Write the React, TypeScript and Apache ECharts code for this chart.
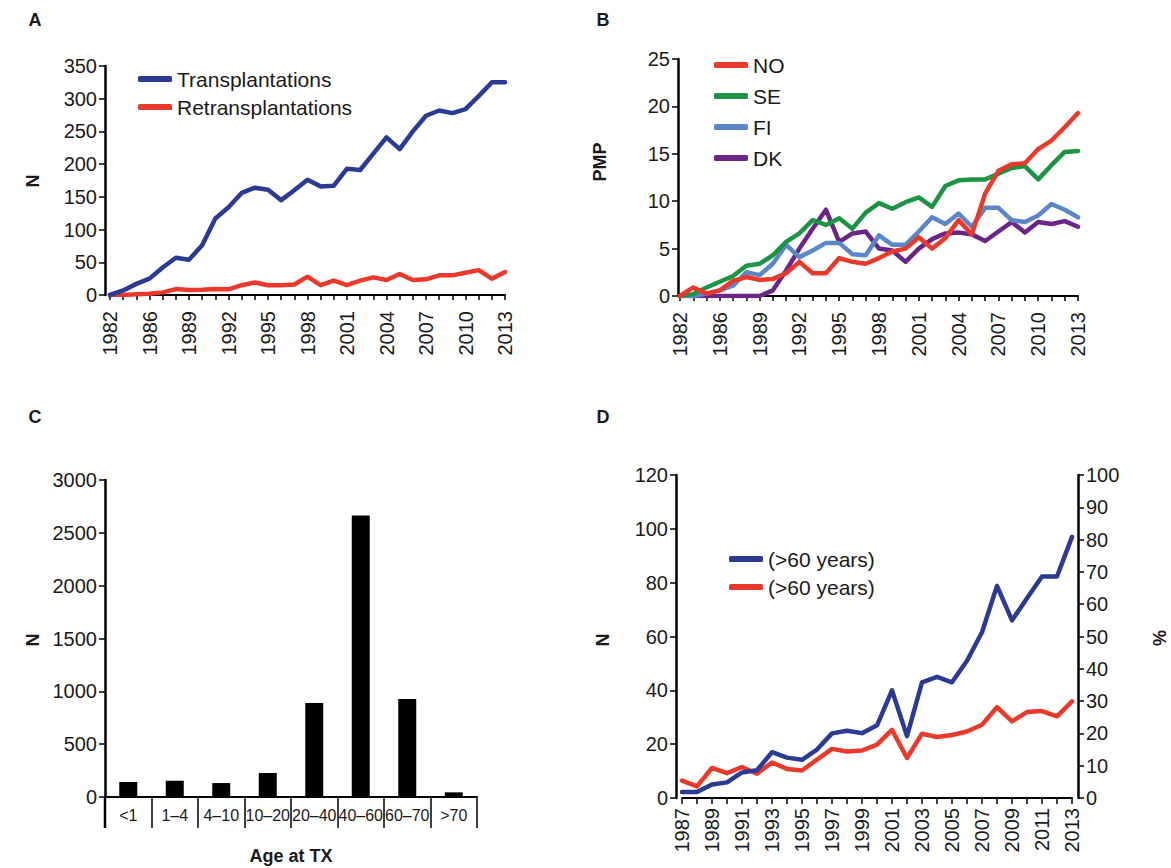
import React, { useEffect, useRef } from "react";
import * as echarts from "echarts";

// Panel A / B: yearly series (31 points)
const yearsAB = [
  "1983","1984","1985","1986","1987","1988","1989","1990","1991","1992","1993",
  "1994","1995","1996","1997","1998","1999","2000","2001","2002","2003","2004",
  "2005","2006","2007","2008","2009","2010","2011","2012","2013",
];
const tickLabelsAB = ["1982","1986","1989","1992","1995","1998","2001","2004","2007","2010","2013"];

const transplantations = [
  0, 7, 17, 25, 42, 57, 54, 76, 117, 134, 156, 164, 161, 145, 160, 176, 166, 167,
  193, 191, 216, 241, 223, 250, 274, 282, 278, 284, 304, 325, 325,
];
const retransplantations = [
  0, 0, 1, 2, 4, 9, 7.6, 8, 9, 8.6, 15, 19, 15, 15, 16, 28, 15, 22, 15, 22, 27, 23,
  32, 23, 24, 30, 30, 34, 38, 25, 35,
];

const seriesNO = [
  0, 0.9, 0.25, 0.6, 1.6, 2.0, 1.7, 1.8, 2.4, 3.6, 2.4, 2.4, 4.0, 3.6, 3.4, 4.0, 4.7,
  5.0, 6.2, 5.0, 6.1, 8.0, 6.5, 10.8, 13.2, 13.9, 14.0, 15.5, 16.4, 17.8, 19.3,
];
const seriesSE = [
  0, 0.2, 0.9, 1.5, 2.1, 3.2, 3.4, 4.3, 5.7, 6.6, 8.0, 7.5, 8.2, 7.1, 8.8, 9.8, 9.2,
  9.9, 10.4, 9.4, 11.6, 12.2, 12.3, 12.3, 12.9, 13.5, 13.7, 12.3, 13.8, 15.2, 15.3,
];
const seriesFI = [
  0, 0, 0.25, 0.6, 1.1, 2.5, 2.2, 3.4, 5.4, 4.1, 4.8, 5.6, 5.6, 4.4, 4.3, 6.4, 5.4,
  5.4, 6.8, 8.3, 7.6, 8.7, 7.3, 9.3, 9.3, 8.0, 7.8, 8.5, 9.7, 9.1, 8.3,
];
const seriesDK = [
  0, 0, 0, 0, 0, 0, 0, 0.6, 2.7, 5.0, 7.1, 9.1, 5.7, 6.6, 6.8, 5.0, 4.8, 3.6, 5.0,
  6.0, 6.6, 6.7, 6.5, 5.8, 6.8, 7.8, 6.7, 7.8, 7.6, 7.9, 7.3,
];

// Panel C
const ageGroups = ["<1", "1–4", "4–10", "10–20", "20–40", "40–60", "60–70", ">70"];
const ageCounts = [142, 154, 132, 227, 889, 2663, 927, 44];

// Panel D
const yearsD = [
  "1987","1988","1989","1990","1991","1992","1993","1994","1995","1996","1997",
  "1998","1999","2000","2001","2002","2003","2004","2005","2006","2007","2008",
  "2009","2010","2011","2012","2013",
];
const olderN = [
  2.2, 2.2, 5, 5.8, 9.5, 10.3, 17, 15, 14.2, 18, 24, 25, 24.1, 27, 40, 23, 43, 45, 43,
  51, 61.6, 78.8, 66, 74.2, 82.3, 82.3, 97,
];
const olderPct = [
  5.4, 3.6, 9.3, 7.7, 9.6, 7.5, 11, 9, 8.5, 11.9, 15.2, 14.4, 14.7, 16.5, 21.1, 12.4,
  19.9, 18.9, 19.5, 20.6, 22.7, 28.1, 23.7, 26.6, 26.9, 25.3, 29.9,
];

const FONT = "'Liberation Sans', Arial, Helvetica, sans-serif";
const TXT = "#1a1a1a";
const NAVY = "#2b3a93";
const RED = "#e8392b";
const GREEN = "#1c9444";
const LBLUE = "#5b87c9";
const PURPLE = "#6b2586";

const axisLine = (w: number) => ({ show: true, lineStyle: { color: "#000", width: w } });
const yLabel = {
  color: TXT,
  fontSize: 20,
  fontFamily: FONT,
  margin: 8,
  formatter: (v: number) => String(v),
};

function catAxis(gridIndex: number, data: string[]) {
  return {
    type: "category",
    gridIndex,
    data,
    boundaryGap: false,
    axisLine: { ...axisLine(2), onZero: false },
    axisTick: { show: true, interval: 0, length: 5, lineStyle: { color: "#000", width: 1.5 } },
    axisLabel: { show: false },
    splitLine: { show: false },
  };
}

function labelAxis(gridIndex: number) {
  return {
    type: "category",
    gridIndex,
    position: "bottom",
    offset: 8,
    data: tickLabelsAB,
    boundaryGap: false,
    axisLine: { show: false, onZero: false },
    axisTick: { show: false },
    splitLine: { show: false },
    axisLabel: {
      show: true,
      interval: 0,
      rotate: 90,
      margin: 8,
      color: TXT,
      fontSize: 20,
      fontFamily: FONT,
    },
  };
}

function valueY(gridIndex: number, max: number, interval: number, offset: number, extra: any = {}) {
  return {
    type: "value",
    gridIndex,
    min: 0,
    max,
    interval,
    offset,
    axisLine: axisLine(2.5),
    axisTick: { show: true, length: 6, lineStyle: { color: "#000", width: 1.5 } },
    axisLabel: yLabel,
    splitLine: { show: false },
    ...extra,
  };
}

function lineSeries(name: string, data: number[], color: string, xAxisIndex: number, yAxisIndex: number) {
  return {
    type: "line",
    name,
    data,
    xAxisIndex,
    yAxisIndex,
    symbol: "none",
    lineStyle: { color, width: 4.5, cap: "round", join: "round" },
    itemStyle: { color },
  };
}

function txt(text: string, x: number, y: number, rotation = 0, bold = true, size = 18) {
  return {
    type: "text",
    x,
    y,
    rotation,
    style: {
      text,
      fill: TXT,
      font: `${bold ? "bold " : ""}${size}px ${FONT}`,
      align: "center",
      verticalAlign: "middle",
    },
  };
}

const legendBase = {
  orient: "vertical",
  icon: "roundRect",
  itemWidth: 34,
  itemHeight: 6,
  textStyle: { color: TXT, fontSize: 21, fontFamily: FONT, lineHeight: 22 },
  selectedMode: false,
};

export default function App() {
  const ref = useRef<HTMLDivElement>(null);

  useEffect(() => {
    if (!ref.current) return;
    const chart = echarts.init(ref.current, undefined, { renderer: "svg" });
    const option: any = {
      animation: false,
      backgroundColor: "#fff",
      textStyle: { fontFamily: FONT },
      grid: [
        { left: 110, top: 66, width: 395, height: 229 },
        { left: 680, top: 59, width: 398, height: 237 },
        { left: 105, top: 480, width: 372, height: 317 },
        { left: 682, top: 475, width: 390, height: 323 },
      ],
      xAxis: [
        catAxis(0, yearsAB),
        labelAxis(0),
        catAxis(1, yearsAB),
        labelAxis(1),
        {
          type: "category",
          gridIndex: 2,
          data: ageGroups,
          boundaryGap: true,
          axisLine: { ...axisLine(2), onZero: false },
          axisTick: { show: true, interval: 0, length: 31, lineStyle: { color: "#000", width: 1.5 } },
          axisLabel: { show: true, interval: 0, color: TXT, fontSize: 16, fontFamily: FONT, margin: 10 },
          splitLine: { show: false },
        },
        {
          type: "category",
          gridIndex: 3,
          data: yearsD,
          boundaryGap: false,
          axisLine: { ...axisLine(2), onZero: false },
          axisTick: { show: true, interval: 0, length: 6, lineStyle: { color: "#000", width: 1.5 } },
          axisLabel: { show: true, interval: 1, rotate: 90, color: TXT, fontSize: 20, fontFamily: FONT, margin: 10 },
          splitLine: { show: false },
        },
      ],
      yAxis: [
        valueY(0, 350, 50, 5),
        valueY(1, 25, 5, 2),
        valueY(2, 3000, 500, 0),
        valueY(3, 120, 20, 6),
        valueY(3, 100, 10, 6, { position: "right" }),
      ],
      legend: [
        { ...legendBase, left: 133, top: 63, itemGap: 6, data: ["Transplantations", "Retransplantations"] },
        { ...legendBase, left: 709, top: 49, itemGap: 9, data: ["NO", "SE", "FI", "DK"] },
        {
          ...legendBase,
          left: 724,
          top: 543,
          itemGap: 6,
          data: ["N (>60 years)", "% (>60 years)"],
          formatter: (name: string) => name.replace(/^\S+\s/, ""),
        },
      ],
      series: [
        lineSeries("Retransplantations", retransplantations, RED, 0, 0),
        lineSeries("Transplantations", transplantations, NAVY, 0, 0),
        lineSeries("DK", seriesDK, PURPLE, 2, 1),
        lineSeries("FI", seriesFI, LBLUE, 2, 1),
        lineSeries("SE", seriesSE, GREEN, 2, 1),
        lineSeries("NO", seriesNO, RED, 2, 1),
        {
          type: "bar",
          name: "Age at TX",
          data: ageCounts,
          xAxisIndex: 4,
          yAxisIndex: 2,
          barWidth: 18,
          itemStyle: { color: "#000" },
        },
        lineSeries("% (>60 years)", olderPct, RED, 5, 4),
        lineSeries("N (>60 years)", olderN, NAVY, 5, 3),
      ],
      graphic: [
        txt("A", 35, 20),
        txt("B", 603, 20),
        txt("C", 35, 417),
        txt("D", 603, 417),
        txt("N", 33, 181, Math.PI / 2),
        txt("PMP", 600, 162, Math.PI / 2),
        txt("N", 33, 640, Math.PI / 2),
        txt("N", 603, 640, Math.PI / 2),
        txt("%", 1160, 638, Math.PI / 2),
        txt("Age at TX", 291, 856),
        {
          type: "line",
          shape: { x1: 105, y1: 797, x2: 105, y2: 828 },
          style: { stroke: "#000", lineWidth: 2.5 },
        },
      ],
    };
    chart.setOption(option);
    return () => chart.dispose();
  }, []);

  return (
    <div
      ref={ref}
      style={{ position: "fixed", left: 0, top: 0, width: 1171, height: 868, background: "#fff" }}
    />
  );
}
